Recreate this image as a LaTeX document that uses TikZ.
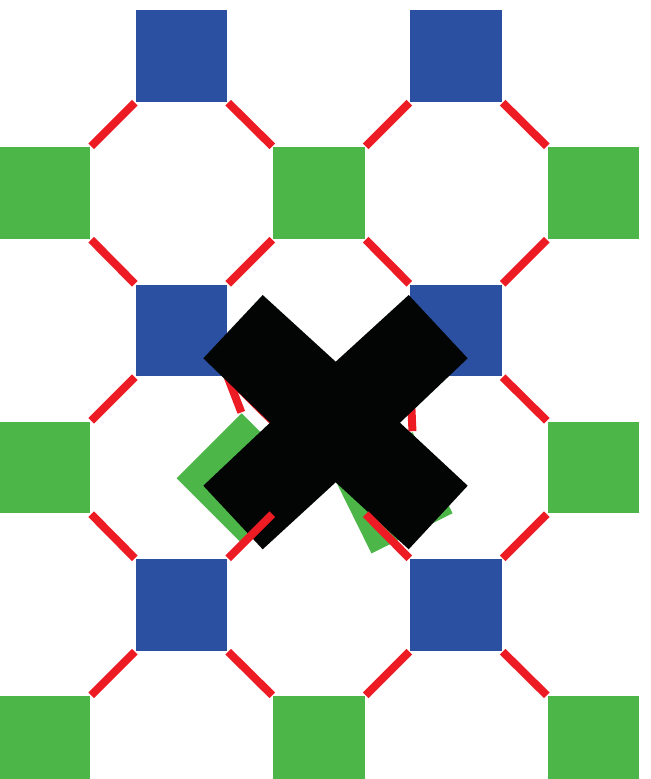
\documentclass[tikz,border=0pt]{standalone}
\definecolor{tileblue}{RGB}{44,80,161}
\definecolor{tilegreen}{RGB}{76,183,72}
\definecolor{tilered}{RGB}{237,28,36}
\definecolor{crossblack}{RGB}{3,5,5}
\begin{document}
\begin{tikzpicture}[x=0.02cm,y=-0.02cm,
  sq/.style={rectangle, inner sep=0pt, outer sep=0pt, minimum size=1.84cm},
  bluesq/.style={sq, fill=tileblue, anchor=north west},
  greensq/.style={sq, fill=tilegreen, anchor=north west},
  holder/.style={sq, anchor=north west},
  link/.style={draw=tilered, line width=0.16cm, shorten <=0.02cm, shorten >=0.02cm}]
\path[use as bounding box] (0,0) rectangle (651,779);
% blue squares
\foreach \i in {0,1}
  \foreach \j in {0,1,2}
    \node[bluesq] (b\i\j) at ({135.5+274.5*\i},{10+274.5*\j}) {};
% green squares (centre one is displaced)
\foreach \i/\j in {0/0,1/0,2/0,0/1,2/1,0/2,1/2,2/2}
  \node[greensq] (g\i\j) at ({-1.5+274.5*\i},{147+274.5*\j}) {};
\node[holder] (g11) at (273,421.5) {};
% red links: blue above green
\foreach \i in {0,1}{
  \pgfmathtruncatemacro\k{\i+1}
  \foreach \j in {0,1,2}{
    \draw[link] (b\i\j.south west) -- (g\i\j.north east);
    \draw[link] (b\i\j.south east) -- (g\k\j.north west);
  }
}
% red links: green above blue
\draw[link] (g00.south east) -- (b01.north west);
\draw[link] (g10.south west) -- (b01.north east);
\draw[link] (g10.south east) -- (b11.north west);
\draw[link] (g20.south west) -- (b11.north east);
\draw[link] (g01.south east) -- (b02.north west);
\draw[link] (g21.south west) -- (b12.north east);
% displaced pieces
\node[sq, fill=tilegreen, rotate=45] (gL) at (241.7,478.3) {};
\node[sq, fill=tilegreen, minimum size=1.81cm, rotate=26.3] (gR) at (392,492.8) {};
\draw[link] (b01.south east) -- (gL.north east);
\draw[link] (b11.south west) -- (gR.north east);
% cross
\fill[crossblack] (262.7,295) -- (335.7,361.7) -- (408.7,295) -- (467.7,358.3)
  -- (400,422.7) -- (467.7,485.7) -- (408.7,549.3) -- (335.7,482.3)
  -- (262.7,549.3) -- (203.3,485.7) -- (270,422.7) -- (203.3,358.3) -- cycle;
% links lying over the cross
\draw[link] (g11.south west) -- (b02.north east);
\draw[link] (g11.south east) -- (b12.north west);
\end{tikzpicture}
\end{document}
